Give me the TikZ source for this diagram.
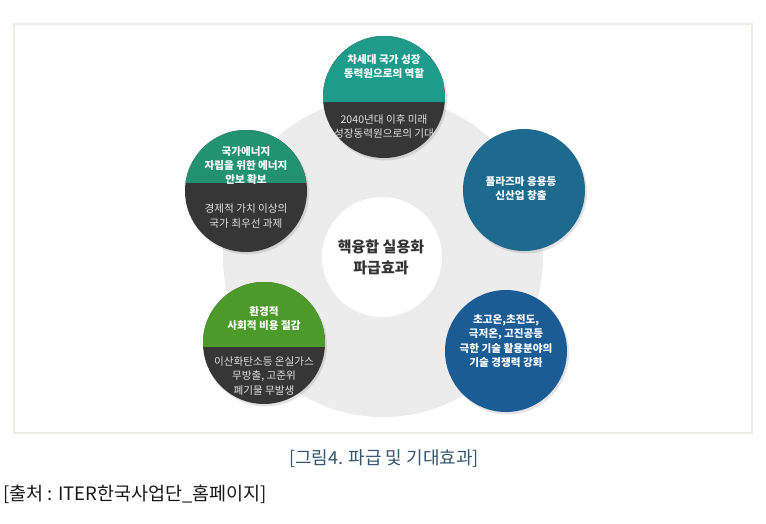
\documentclass[tikz,border=0pt]{standalone}
\usepackage{fontspec}
\newfontfamily\cjk{Noto Sans CJK KR}
\definecolor{framecol}{HTML}{EEEDE8}
\definecolor{ringgray}{HTML}{ECECEC}
\definecolor{darkpart}{HTML}{363636}
\definecolor{tealc}{HTML}{1F9B8B}
\definecolor{greenc}{HTML}{22926F}
\definecolor{bluer}{HTML}{1D6A8E}
\definecolor{leafc}{HTML}{4C9A2A}
\definecolor{blueb}{HTML}{1C5C95}
\definecolor{captc}{HTML}{34566F}
\definecolor{maintxt}{HTML}{333333}
\tikzset{
  bubble/.style={circle, minimum size=122pt, inner sep=0pt, outer sep=0pt},
  bubtxt/.style={align=center, text=white, inner sep=0pt, font=\cjk\bfseries\fontsize{10.6}{14.2}\selectfont},
  subtxt/.style={align=center, text=white!88!black, inner sep=0pt, font=\cjk\fontsize{10.6}{14.8}\selectfont},
  splitfill/.style 2 args={path picture={\fill[#1] (path picture bounding box.north west) rectangle ([yshift=#2]path picture bounding box.east);}},
  shadowc/.style={circle, minimum size=123pt, inner sep=0pt, fill=black, opacity=0.10}
}
\begin{document}
\begin{tikzpicture}[x=1pt,y=-1pt]
\useasboundingbox (0,0) rectangle (766,523);
\fill[white] (0,0) rectangle (766,523);
\draw[framecol, line width=1.6pt] (14,24) rectangle (752,433);
% big ring background
\node[circle, minimum size=320pt, inner sep=0pt, fill=ringgray] (ring) at (383,257) {};
\node[circle, minimum size=120pt, inner sep=0pt, fill=white] (core) at (382,257) {};
\node[align=center, text=maintxt, inner sep=0pt, font=\cjk\bfseries\fontsize{15}{21}\selectfont] (coretxt) at (381,257.5) {핵융합 실용화\\파급효과};
% shadows
\node[shadowc] (s1) at (385.5,99) {};
\node[shadowc] (s2) at (247.5,193) {};
\node[shadowc] (s3) at (525.5,192) {};
\node[shadowc] (s4) at (265.5,345) {};
\node[shadowc] (s5) at (507.5,353) {};
% top bubble
\node[bubble, fill=darkpart, splitfill={tealc}{-5pt}] (top) at (384,97) {};
\node[bubtxt] (toptxt) at (384,66.5) {차세대 국가 성장\\동력원으로의 역할};
\node[subtxt] (topsub) at (384,126.5) {2040년대 이후 미래\\성장동력원으로의 기대};
% left-top bubble
\node[bubble, fill=darkpart, splitfill={greenc}{8pt}] (lt) at (246,191) {};
\node[bubtxt] (lttxt) at (246,165.5) {국가에너지\\자립을 위한 에너지\\안보 확보};
\node[subtxt] (ltsub) at (246,216) {경제적 가치 이상의\\국가 최우선 과제};
% right bubble
\node[bubble, fill=bluer] (rt) at (524,190) {};
\node[bubtxt] (rttxt) at (521,188.5) {플라즈마 응용등\\신산업 창출};
% bottom-left bubble
\node[bubble, fill=darkpart, splitfill={leafc}{-4pt}] (lb) at (264,343) {};
\node[bubtxt] (lbtxt) at (264,318.5) {환경적\\사회적 비용 절감};
\node[subtxt] (lbsub) at (264,376) {이산화탄소등 온실가스\\무방출, 고준위\\폐기물 무발생};
% bottom-right bubble
\node[bubble, fill=blueb] (rb) at (506,351) {};
\node[bubtxt] (rbtxt) at (506,341) {초고온,초전도,\\극저온, 고진공등\\극한 기술 활용분야의\\기술 경쟁력 강화};
% captions
\node[text=captc, inner sep=0pt, font=\cjk\fontsize{18}{20}\selectfont] (cap) at (384,459) {[그림4. 파급 및 기대효과]};
\node[anchor=west, text=black!90, inner sep=0pt, font=\cjk\fontsize{18.5}{20}\selectfont] (src) at (3,494) {[출처 : ITER한국사업단\_홈페이지]};
\end{tikzpicture}
\end{document}
